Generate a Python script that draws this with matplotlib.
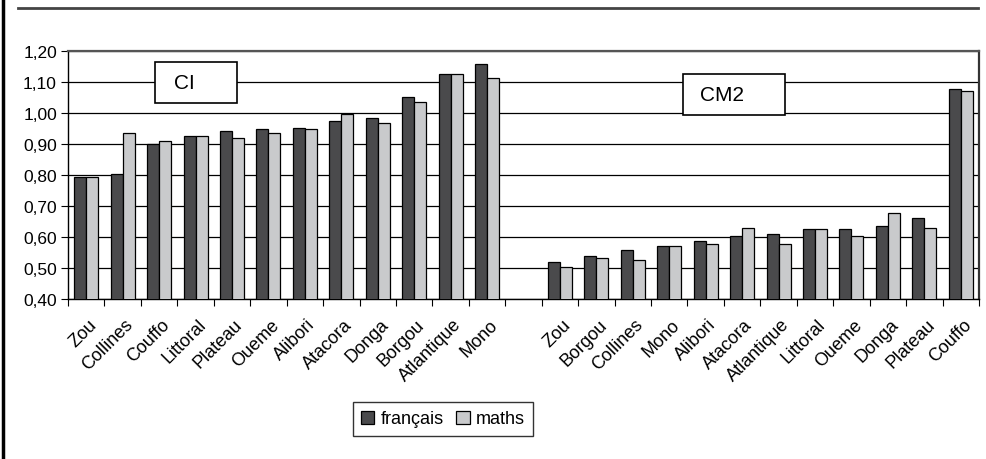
import numpy as np
import matplotlib as mpl
import matplotlib.pyplot as plt
from matplotlib.lines import Line2D
from matplotlib.patches import Rectangle

plt.rcParams['font.family'] = ['Liberation Sans', 'DejaVu Sans']

### Data

ci_regions = ["Zou", "Collines", "Couffo", "Littoral", "Plateau", "Oueme",
              "Alibori", "Atacora", "Donga", "Borgou", "Atlantique", "Mono"]
ci_francais = [0.792, 0.803, 0.898, 0.924, 0.941, 0.946, 0.951, 0.972, 0.982, 1.049, 1.125, 1.156]
ci_maths = [0.792, 0.934, 0.908, 0.924, 0.918, 0.934, 0.946, 0.997, 0.967, 1.034, 1.125, 1.112]

cm2_regions = ["Zou", "Borgou", "Collines", "Mono", "Alibori", "Atacora",
               "Atlantique", "Littoral", "Oueme", "Donga", "Plateau", "Couffo"]
cm2_francais = [0.520, 0.537, 0.557, 0.572, 0.588, 0.604, 0.610, 0.625, 0.625, 0.635, 0.661, 1.076]
cm2_maths = [0.504, 0.531, 0.526, 0.572, 0.577, 0.630, 0.577, 0.625, 0.604, 0.677, 0.630, 1.071]

yticks = [0.40, 0.50, 0.60, 0.70, 0.80, 0.90, 1.00, 1.10, 1.20]

# one empty slot between the two groups
labels = ci_regions + [""] + cm2_regions
fr = ci_francais + [np.nan] + cm2_francais
ma = ci_maths + [np.nan] + cm2_maths

### Draw diagram

W, H = 987, 460
fig = plt.figure(figsize=(W / 100, H / 100), dpi=100)
ax = fig.add_axes([68 / W, 1 - 300 / H, (979 - 68) / W, (300 - 51.5) / H])

xvals = np.arange(len(labels))
width = 0.33
dark = "#4a4a4c"
light = "#c9cacc"

ax.bar(xvals - width / 2, fr, width, color=dark,
       edgecolor="black", linewidth=0.9, label="français", zorder=3)
ax.bar(xvals + width / 2, ma, width, color=light,
       edgecolor="black", linewidth=0.9, label="maths", zorder=3)

ax.set_ylim(0.40, 1.20)
ax.set_xlim(-0.5, len(labels) - 0.5)
ax.set_yticks(yticks)
ax.yaxis.set_major_formatter(mpl.ticker.FuncFormatter(lambda v, p: "{:.2f}".format(v).replace(".", ",")))
ax.yaxis.grid(True, color="black", linewidth=0.9, zorder=0)
ax.set_axisbelow(True)

# category ticks sit between the slots, labels in the middle
ax.set_xticks(np.arange(len(labels) + 1) - 0.5)
ax.set_xticklabels([])
ax.set_xticks(xvals + 0.05, minor=True)
ax.set_xticklabels(labels, minor=True, rotation=45, ha="right", rotation_mode="anchor",
                   fontsize=13)
ax.tick_params(axis="x", which="minor", length=0, pad=12)
ax.tick_params(axis="x", which="major", length=5, direction="out", color="black")
ax.tick_params(axis="y", length=5, direction="out", labelsize=12.5, pad=3)

for spine in ax.spines.values():
    spine.set_color("black")
    spine.set_linewidth(1.0)
ax.spines["top"].set_color("#555555")
ax.spines["top"].set_linewidth(1.6)
ax.spines["right"].set_color("#333333")
ax.spines["right"].set_linewidth(1.6)

# group labels in boxes
for name, x0, x1, y0, y1 in [("CI", 155, 237, 63, 104), ("CM2", 683, 785, 75, 116)]:
    fig.add_artist(Rectangle((x0 / W, 1 - y1 / H), (x1 - x0) / W, (y1 - y0) / H,
                             facecolor="white", edgecolor="black", linewidth=1.2,
                             transform=fig.transFigure, zorder=5))
    fig.text((x0 + x1) / 2 / W - 0.012, 1 - (y0 + y1) / 2 / H, name, fontsize=15,
             va="center", ha="center", zorder=6)

leg = fig.legend(loc="center", bbox_to_anchor=(443 / W, 1 - 420 / H), ncol=2,
                 fontsize=13, frameon=True, fancybox=False, edgecolor="black",
                 handlelength=0.75, handleheight=0.75, handletextpad=0.35, columnspacing=0.7,
                 borderpad=0.45)
leg.get_frame().set_linewidth(1.0)

# page rules around the chart
fig.add_artist(Line2D([18 / W, 978 / W], [1 - 9 / H, 1 - 9 / H],
                      color="#444444", linewidth=2.0))
fig.add_artist(Line2D([3 / W, 3 / W], [0, 1], color="black", linewidth=2.5))

fig.savefig("out.png", dpi=100)
